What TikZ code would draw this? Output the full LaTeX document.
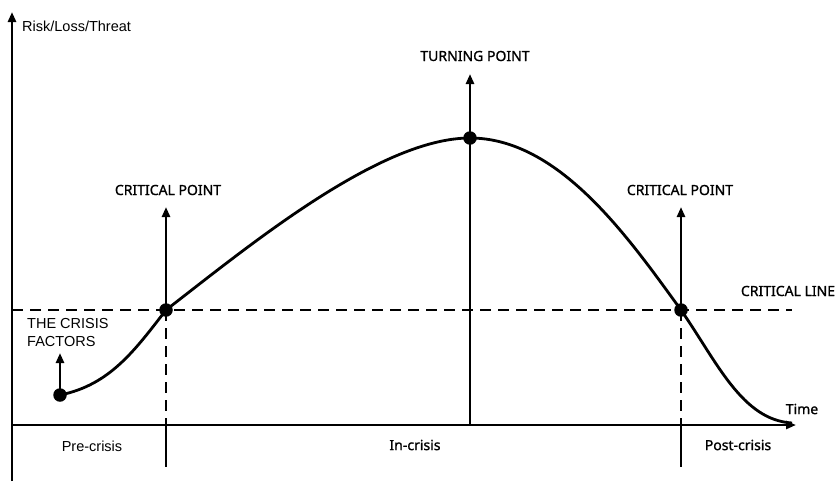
\documentclass[tikz,border=0pt]{standalone}
\usepackage{fontspec}
\setmainfont{Liberation Sans}
\newfontfamily\labfont[FakeBold=1.2]{Noto Sans}
\usetikzlibrary{arrows.meta}
\tikzset{
  axis/.style={line width=2.8pt,-{Triangle[length=10pt,width=8pt]}},
  curveline/.style={line width=2.8pt},
  upline/.style={line width=2.6pt,-{Triangle[length=10pt,width=8pt]}},
  dashline/.style={line width=2.6pt,dash pattern=on 11pt off 7pt},
  solidline/.style={line width=2.6pt},
  dot/.style={circle,fill=black,inner sep=0pt,minimum size=13.5pt},
  arialtxt/.style={font=\fontsize{14.5}{18}\selectfont,inner sep=0pt},
  captxt/.style={font=\labfont\fontsize{14}{17}\selectfont,inner sep=0pt},
}
\begin{document}
\begin{tikzpicture}[x=1pt,y=-1pt]
\useasboundingbox (0,0) rectangle (838,483);
% axes
\coordinate (o) at (12,425);
\coordinate (ybot) at (12,481);
\coordinate (ytop) at (12,12);
\coordinate (xend) at (796,425);
\draw[axis] (ybot) -- (ytop);
\draw[axis] (o) -- (xend);
\node[arialtxt,anchor=west] (ylab) at (22,26) {Risk/Loss/Threat};
\node[captxt] (tlab) at (802,409) {Time};
% critical line
\coordinate (cl0) at (12,310);
\coordinate (cl1) at (792,310);
\draw[dashline] (cl0) -- (cl1);
\node[captxt] (cllab) at (788,291) {CRITICAL LINE};
% points
\coordinate (p0) at (60,395);
\coordinate (c1) at (166,310);
\coordinate (tp) at (470,138);
\coordinate (c2) at (681,310);
\coordinate (pend) at (792,423);
% curve
\draw[curveline] (p0) .. controls (110,385) and (135,350) .. (c1)
  .. controls (250,245) and (380,138) .. (tp)
  .. controls (560,138) and (630,240) .. (c2)
  .. controls (717,362) and (742,420) .. (pend);
% verticals
\coordinate (c1a) at (166,425);
\coordinate (c1b) at (166,467);
\coordinate (c1t) at (166,207);
\coordinate (c2a) at (681,425);
\coordinate (c2b) at (681,467);
\coordinate (c2t) at (681,207);
\coordinate (tpa) at (470,425);
\coordinate (tpt) at (470,74);
\coordinate (p0t) at (60,353);
\draw[dashline] (c1) -- (c1a);
\draw[solidline] (c1a) -- (c1b);
\draw[dashline] (c2) -- (c2a);
\draw[solidline] (c2a) -- (c2b);
\draw[solidline] (tp) -- (tpa);
\draw[upline] (c1) -- (c1t);
\draw[upline] (c2) -- (c2t);
\draw[upline] (tp) -- (tpt);
\draw[upline] (p0) -- (p0t);
% dots
\node[dot] (d0) at (p0) {};
\node[dot] (d1) at (c1) {};
\node[dot] (d2) at (tp) {};
\node[dot] (d3) at (c2) {};
% labels
\node[captxt] (cp1) at (168,190) {CRITICAL POINT};
\node[captxt] (cp2) at (680,190) {CRITICAL POINT};
\node[captxt] (tpl) at (475,56) {TURNING POINT};
\node[arialtxt,anchor=north west,align=left] (cf) at (27,318) {THE CRISIS\\FACTORS};
\node[arialtxt] (pre) at (92,446) {Pre-crisis};
\node[captxt] (inc) at (415,445) {In-crisis};
\node[captxt] (post) at (738,445) {Post-crisis};
\end{tikzpicture}
\end{document}
